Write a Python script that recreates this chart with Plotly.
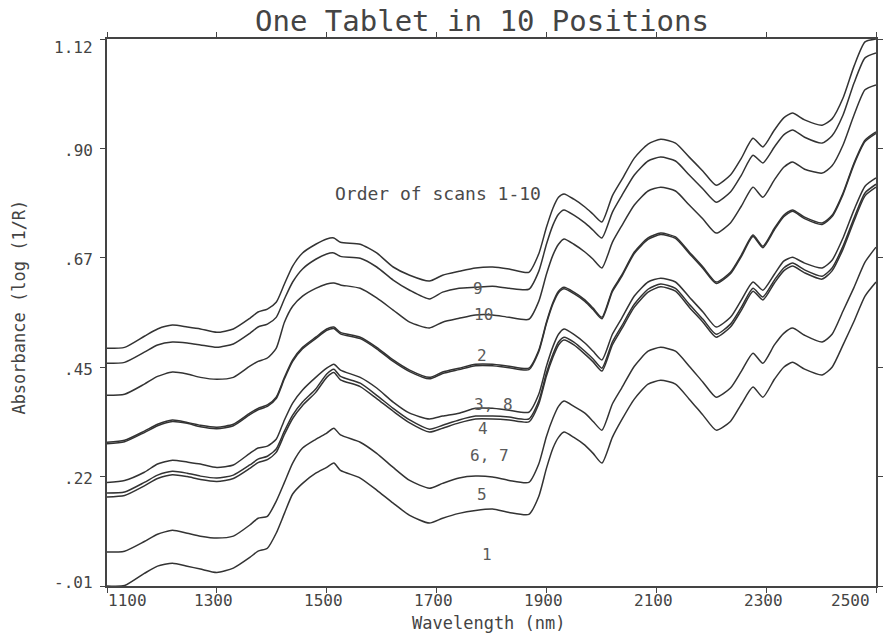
import plotly.graph_objects as go

# Wavelength grid (nm) shared by all ten scans
wavelength_nm = [1100, 1132, 1168, 1192, 1219, 1246, 1270, 1300, 1330, 1360,
                 1375, 1392, 1408, 1423, 1438, 1456, 1480, 1500, 1513, 1525,
                 1561, 1591, 1621, 1651, 1687, 1711, 1741, 1771, 1802, 1832,
                 1868, 1886, 1900, 1912, 1922, 1932, 1950, 1970, 1985, 2001,
                 2020, 2037, 2060, 2085, 2108, 2135, 2160, 2185, 2209, 2235,
                 2255, 2276, 2294, 2315, 2332, 2348, 2370, 2402, 2420, 2440,
                 2460, 2480, 2500]

# Absorbance, log(1/R), for each scan position
scan_9 = [0.481, 0.483, 0.506, 0.521, 0.529, 0.525, 0.521, 0.514, 0.521, 0.543,
          0.556, 0.562, 0.576, 0.614, 0.651, 0.678, 0.696, 0.707, 0.709, 0.700,
          0.696, 0.678, 0.649, 0.632, 0.620, 0.632, 0.640, 0.647, 0.649, 0.645,
          0.638, 0.676, 0.731, 0.771, 0.793, 0.800, 0.789, 0.773, 0.758, 0.742,
          0.796, 0.829, 0.874, 0.903, 0.913, 0.905, 0.876, 0.847, 0.818, 0.839,
          0.874, 0.915, 0.897, 0.932, 0.957, 0.967, 0.953, 0.942, 0.955, 0.998,
          1.064, 1.114, 1.120]
scan_10 = [0.450, 0.452, 0.473, 0.488, 0.494, 0.492, 0.488, 0.483, 0.490, 0.512,
           0.525, 0.531, 0.545, 0.583, 0.618, 0.645, 0.665, 0.676, 0.678, 0.671,
           0.667, 0.649, 0.622, 0.601, 0.583, 0.597, 0.605, 0.607, 0.609, 0.605,
           0.603, 0.640, 0.696, 0.736, 0.758, 0.767, 0.756, 0.740, 0.725, 0.709,
           0.762, 0.796, 0.839, 0.868, 0.876, 0.868, 0.839, 0.810, 0.783, 0.804,
           0.839, 0.880, 0.864, 0.897, 0.922, 0.932, 0.917, 0.905, 0.920, 0.963,
           1.029, 1.081, 1.091]
scan_2 = [0.384, 0.386, 0.407, 0.423, 0.432, 0.428, 0.421, 0.417, 0.421, 0.444,
          0.454, 0.461, 0.481, 0.535, 0.568, 0.589, 0.605, 0.614, 0.616, 0.612,
          0.605, 0.585, 0.560, 0.535, 0.523, 0.535, 0.543, 0.550, 0.550, 0.545,
          0.541, 0.578, 0.634, 0.674, 0.696, 0.707, 0.696, 0.680, 0.665, 0.647,
          0.700, 0.734, 0.777, 0.806, 0.814, 0.806, 0.777, 0.748, 0.719, 0.740,
          0.775, 0.814, 0.793, 0.829, 0.855, 0.866, 0.851, 0.843, 0.858, 0.901,
          0.963, 1.015, 1.025]
scan_3 = [0.287, 0.291, 0.310, 0.324, 0.333, 0.328, 0.322, 0.318, 0.324, 0.347,
          0.357, 0.364, 0.380, 0.421, 0.457, 0.483, 0.504, 0.521, 0.525, 0.514,
          0.504, 0.483, 0.457, 0.436, 0.421, 0.432, 0.440, 0.448, 0.448, 0.444,
          0.440, 0.477, 0.535, 0.576, 0.599, 0.607, 0.597, 0.581, 0.564, 0.545,
          0.601, 0.632, 0.680, 0.709, 0.719, 0.711, 0.680, 0.649, 0.618, 0.638,
          0.674, 0.715, 0.692, 0.729, 0.756, 0.767, 0.752, 0.740, 0.756, 0.802,
          0.864, 0.911, 0.928]
scan_8 = [0.284, 0.288, 0.307, 0.321, 0.330, 0.326, 0.319, 0.315, 0.321, 0.344,
          0.354, 0.361, 0.377, 0.418, 0.454, 0.480, 0.501, 0.518, 0.522, 0.511,
          0.501, 0.480, 0.454, 0.433, 0.418, 0.429, 0.437, 0.445, 0.445, 0.441,
          0.437, 0.474, 0.532, 0.573, 0.596, 0.604, 0.594, 0.578, 0.561, 0.542,
          0.598, 0.629, 0.677, 0.706, 0.716, 0.708, 0.677, 0.646, 0.615, 0.635,
          0.671, 0.712, 0.689, 0.726, 0.753, 0.764, 0.749, 0.737, 0.753, 0.799,
          0.861, 0.908, 0.925]
scan_4 = [0.204, 0.208, 0.225, 0.242, 0.250, 0.246, 0.242, 0.235, 0.240, 0.264,
          0.275, 0.279, 0.293, 0.333, 0.368, 0.395, 0.421, 0.440, 0.448, 0.436,
          0.421, 0.399, 0.370, 0.347, 0.335, 0.341, 0.347, 0.357, 0.357, 0.353,
          0.349, 0.386, 0.444, 0.485, 0.510, 0.521, 0.510, 0.492, 0.475, 0.457,
          0.510, 0.543, 0.589, 0.618, 0.626, 0.618, 0.587, 0.556, 0.525, 0.545,
          0.581, 0.618, 0.601, 0.634, 0.661, 0.669, 0.657, 0.647, 0.663, 0.709,
          0.767, 0.816, 0.833]
scan_6 = [0.182, 0.184, 0.204, 0.219, 0.227, 0.223, 0.217, 0.213, 0.219, 0.240,
          0.252, 0.258, 0.273, 0.310, 0.343, 0.370, 0.397, 0.428, 0.438, 0.423,
          0.409, 0.384, 0.357, 0.333, 0.314, 0.322, 0.333, 0.341, 0.341, 0.339,
          0.335, 0.372, 0.430, 0.469, 0.494, 0.504, 0.494, 0.475, 0.459, 0.440,
          0.494, 0.527, 0.572, 0.603, 0.614, 0.605, 0.572, 0.541, 0.510, 0.531,
          0.566, 0.605, 0.587, 0.622, 0.647, 0.657, 0.643, 0.630, 0.647, 0.692,
          0.750, 0.802, 0.820]
scan_7 = [0.174, 0.177, 0.197, 0.212, 0.220, 0.216, 0.210, 0.206, 0.212, 0.233,
          0.245, 0.251, 0.266, 0.303, 0.336, 0.363, 0.390, 0.421, 0.431, 0.416,
          0.402, 0.377, 0.351, 0.327, 0.308, 0.316, 0.327, 0.335, 0.335, 0.333,
          0.329, 0.366, 0.424, 0.463, 0.488, 0.498, 0.488, 0.469, 0.453, 0.434,
          0.488, 0.521, 0.566, 0.597, 0.608, 0.599, 0.566, 0.535, 0.504, 0.525,
          0.560, 0.599, 0.581, 0.616, 0.641, 0.651, 0.637, 0.624, 0.641, 0.686,
          0.744, 0.796, 0.814]
scan_5 = [0.060, 0.062, 0.082, 0.097, 0.105, 0.099, 0.093, 0.089, 0.093, 0.116,
          0.130, 0.134, 0.165, 0.204, 0.244, 0.275, 0.293, 0.306, 0.316, 0.302,
          0.287, 0.264, 0.235, 0.208, 0.192, 0.202, 0.213, 0.217, 0.215, 0.208,
          0.204, 0.242, 0.299, 0.337, 0.361, 0.372, 0.361, 0.347, 0.330, 0.312,
          0.366, 0.399, 0.444, 0.475, 0.483, 0.475, 0.444, 0.411, 0.380, 0.399,
          0.434, 0.471, 0.450, 0.488, 0.512, 0.523, 0.508, 0.494, 0.510, 0.558,
          0.607, 0.659, 0.690]
scan_1 = [-0.010, -0.009, 0.016, 0.031, 0.037, 0.031, 0.025, 0.018, 0.027, 0.049,
          0.062, 0.068, 0.099, 0.140, 0.180, 0.202, 0.223, 0.235, 0.244, 0.229,
          0.213, 0.188, 0.161, 0.136, 0.120, 0.130, 0.140, 0.146, 0.149, 0.142,
          0.138, 0.175, 0.233, 0.275, 0.297, 0.308, 0.297, 0.281, 0.264, 0.244,
          0.297, 0.333, 0.376, 0.407, 0.415, 0.407, 0.376, 0.343, 0.312, 0.330,
          0.366, 0.401, 0.380, 0.417, 0.442, 0.452, 0.438, 0.426, 0.442, 0.488,
          0.537, 0.589, 0.618]

scan_names = ["9", "10", "2", "3", "8", "4", "6", "7", "5", "1"]
scan_values = [scan_9, scan_10, scan_2, scan_3, scan_8, scan_4, scan_6, scan_7, scan_5, scan_1]

# Axis ticks
x_tick_vals = [1100, 1300, 1500, 1700, 1900, 2100, 2300, 2500]
x_tick_text = ["1100", "1300", "1500", "1700", "1900", "2100", "2300", "2500"]
y_tick_vals = [-0.01, 0.216, 0.442, 0.668, 0.894, 1.12]
y_tick_text = ["-.01", ".22", ".45", ".67", ".90", "1.12"]

# In-plot labels naming the scans
curve_label_text = ["9", "10", "2", "3, 8", "4", "6, 7", "5", "1"]
curve_label_nm = [1776, 1785, 1783, 1803, 1785, 1796, 1783, 1792]
curve_label_abs = [0.605, 0.551, 0.467, 0.365, 0.315, 0.260, 0.178, 0.055]

MONO = "DejaVu Sans Mono"
INK = "#333333"
TEXT = "#444444"

fig = go.Figure()
for name, vals in zip(scan_names, scan_values):
    fig.add_trace(go.Scatter(
        x=wavelength_nm, y=vals, mode="lines", name="Scan " + name,
        line=dict(color=INK, width=1.5, shape="spline", smoothing=0.6),
        showlegend=False, hoverinfo="skip",
    ))

annotations = []
for txt, xv, yv in zip(curve_label_text, curve_label_nm, curve_label_abs):
    annotations.append(dict(x=xv, y=yv, xref="x", yref="y", text=txt, showarrow=False,
                            font=dict(family=MONO, size=16, color="#5a5a5a"),
                            xanchor="center", yanchor="middle"))

annotations.append(dict(x=1702, y=0.800, xref="x", yref="y", text="Order of scans 1-10",
                        showarrow=False, font=dict(family=MONO, size=18, color="#4a4a4a"),
                        xanchor="center", yanchor="middle"))

# x tick labels (end labels kept inside the frame)
for i, (v, t) in enumerate(zip(x_tick_vals, x_tick_text)):
    if i == 0:
        anchor, shift = "left", -1
    elif i == len(x_tick_vals) - 1:
        anchor, shift = "right", -4
    else:
        anchor, shift = "center", -3
    annotations.append(dict(x=v, y=0, xref="x", yref="paper", text=t, showarrow=False,
                            font=dict(family=MONO, size=16, color=TEXT),
                            xanchor=anchor, yanchor="middle", xshift=shift, yshift=-14))

# y tick labels
for i, (v, t) in enumerate(zip(y_tick_vals, y_tick_text)):
    if i == 0:
        ys = 4
    elif i == len(y_tick_vals) - 1:
        ys = -8
    else:
        ys = -2
    annotations.append(dict(x=0, y=v, xref="paper", yref="y", text=t, showarrow=False,
                            font=dict(family=MONO, size=16, color=TEXT),
                            xanchor="right", yanchor="middle", xshift=-12, yshift=ys))

# axis titles
annotations.append(dict(x=0.497, y=-0.068, xref="paper", yref="paper", text="Wavelength (nm)",
                        showarrow=False, font=dict(family=MONO, size=17, color=TEXT),
                        xanchor="center", yanchor="middle"))
annotations.append(dict(x=-0.115, y=0.51, xref="paper", yref="paper", text="Absorbance (log (1/R)",
                        showarrow=False, textangle=-90, font=dict(family=MONO, size=17, color=TEXT),
                        xanchor="center", yanchor="middle"))

axis_style = dict(showline=True, linecolor="#444444", linewidth=1.5, mirror="ticks",
                  ticks="outside", ticklen=5, tickwidth=1.2, tickcolor="#444444",
                  showgrid=False, zeroline=False, showticklabels=False)

fig.update_layout(
    width=887, height=634,
    margin=dict(l=107, r=4, t=39, b=48),
    paper_bgcolor="white", plot_bgcolor="white",
    title=dict(text="One Tablet in 10 Positions", x=0.4876, xref="paper",
               y=0.967, yanchor="middle", xanchor="center",
               font=dict(family=MONO, size=29, color=TEXT)),
    xaxis=dict(range=[1100, 2500], tickvals=x_tick_vals, **axis_style),
    yaxis=dict(range=[-0.01, 1.12], tickvals=y_tick_vals, **axis_style),
    annotations=annotations,
)

fig.write_html("out.html")
